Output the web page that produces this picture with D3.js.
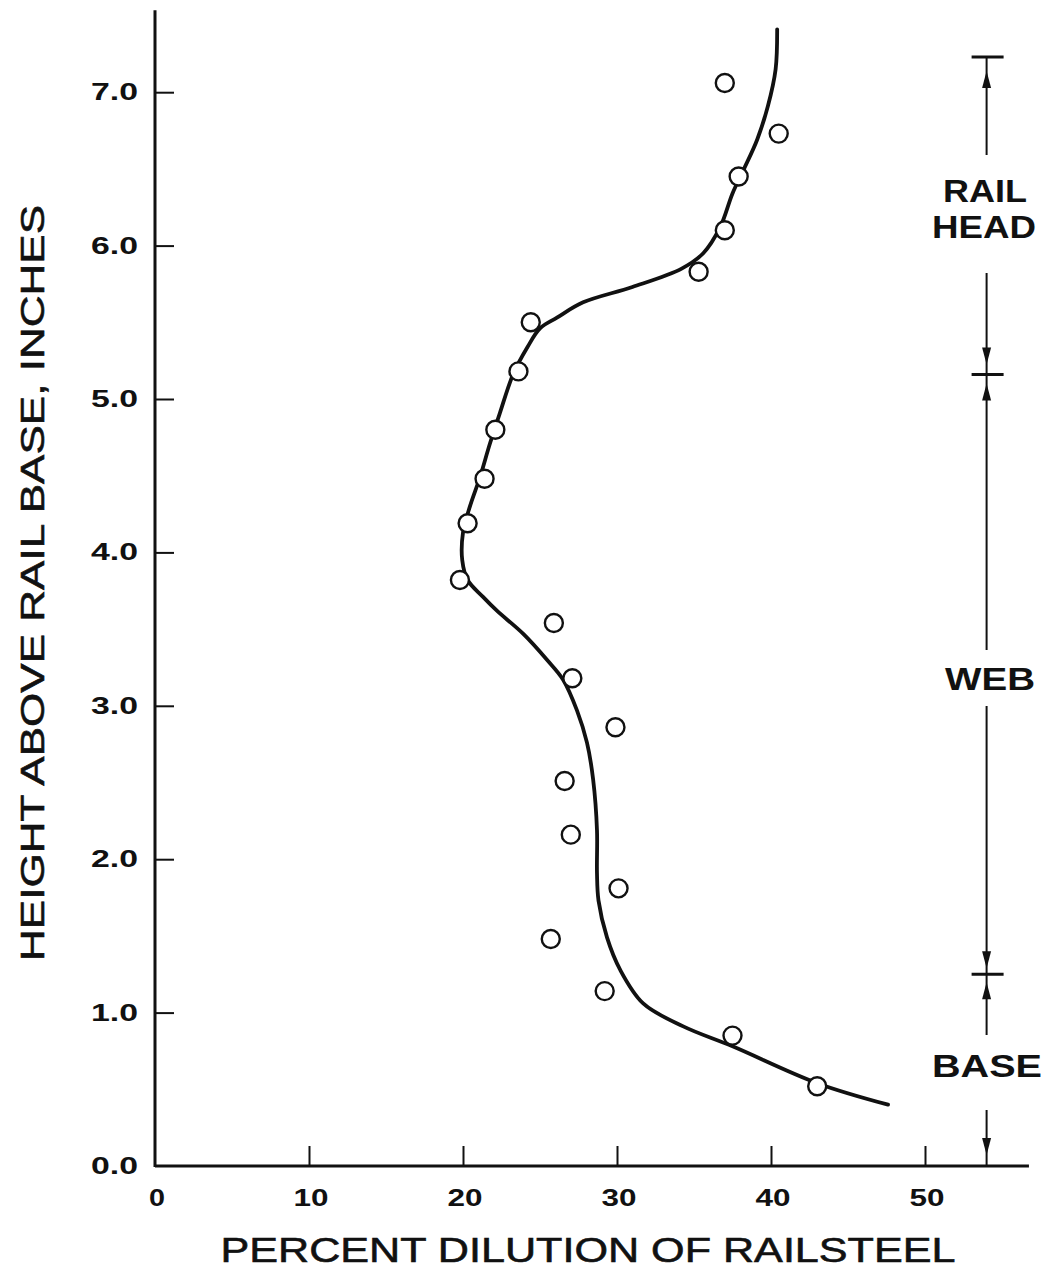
<!DOCTYPE html>
<html>
<head>
<meta charset="utf-8">
<script src="https://cdn.jsdelivr.net/npm/d3@7"></script>
<style>
  html, body { margin: 0; padding: 0; background: #fff; }
  svg { display: block; }
  text { font-family: "Liberation Sans", Arial, Helvetica, sans-serif; fill: #111; }
</style>
</head>
<body>
<svg id="chart" width="1049" height="1273"></svg>
<script>
// ---- data ----
const xTicks = [0, 10, 20, 30, 40, 50];
const yTicks = [0, 1, 2, 3, 4, 5, 6, 7];
const xTickLabels = ["0", "10", "20", "30", "40", "50"];
const yTickLabels = ["0.0", "1.0", "2.0", "3.0", "4.0", "5.0", "6.0", "7.0"];

// measured points: percent dilution, height (in)
const pointDilution = [37.0, 40.5, 37.9, 37.0, 35.3, 24.4, 23.6, 22.1, 21.4, 20.3, 19.8,
                       25.9, 27.1, 29.9, 26.6, 27.0, 30.1, 25.7, 29.2, 37.5, 43.0];
const pointHeight   = [7.06, 6.73, 6.45, 6.10, 5.83, 5.50, 5.18, 4.80, 4.48, 4.19, 3.82,
                       3.54, 3.18, 2.86, 2.51, 2.16, 1.81, 1.48, 1.14, 0.85, 0.52];

// fitted curve
const curveDilution = [40.4, 40.3, 39.8, 39.1, 38.2, 37.5, 36.7, 35.6, 34.2, 31.0, 27.8,
                       26.1, 25.0, 24.2, 23.25, 22.4, 21.75, 21.1, 20.45, 20.0, 19.95,
                       20.3, 21.3, 22.2, 23.9, 25.45, 26.5, 27.4, 28.05, 28.45, 28.7,
                       28.7, 28.8, 29.35, 30.2, 31.7, 34.3, 37.5, 43.0, 47.6];
const curveHeight   = [7.41, 7.15, 6.91, 6.69, 6.49, 6.34, 6.12, 5.95, 5.85, 5.73, 5.63,
                       5.53, 5.46, 5.34, 5.16, 4.91, 4.71, 4.49, 4.30, 4.13, 3.95,
                       3.82, 3.71, 3.62, 3.47, 3.30, 3.17, 2.97, 2.76, 2.52, 2.19,
                       1.91, 1.73, 1.49, 1.28, 1.06, 0.91, 0.78, 0.54, 0.40];

// rail section bracket
const sectionNames  = [["BASE"], ["WEB"], ["RAIL", "HEAD"]];
const sectionBounds = [0, 1.25, 5.16, 7.23];
const bracketX = 54.0;

const xTitle = "PERCENT DILUTION OF RAILSTEEL";
const yTitle = "HEIGHT ABOVE RAIL BASE, INCHES";

// ---- scales ----
const svg = d3.select("#chart");
const x = d3.scaleLinear().domain([0, 50]).range([155, 925]);
const y = d3.scaleLinear().domain([0, 7]).range([1166, 92.2]);

const ink = "#111";

// axes lines
svg.append("line").attr("x1", x(0)).attr("x2", x(56.75)).attr("y1", y(0)).attr("y2", y(0))
  .attr("stroke", ink).attr("stroke-width", 3);
svg.append("line").attr("x1", x(0)).attr("x2", x(0)).attr("y1", y(0) + 1).attr("y2", y(7.535))
  .attr("stroke", ink).attr("stroke-width", 3);

// x axis ticks (inward)
const xAxis = d3.axisTop(x).tickValues(xTicks.slice(1)).tickSize(20).tickFormat("");
const gx = svg.append("g").attr("transform", `translate(0,${y(0)})`).call(xAxis);
gx.select(".domain").remove();
gx.selectAll(".tick line").attr("stroke", ink).attr("stroke-width", 2);

// y axis ticks (inward)
const yAxis = d3.axisRight(y).tickValues(yTicks.slice(1)).tickSize(19).tickFormat("");
const gy = svg.append("g").attr("transform", `translate(${x(0)},0)`).call(yAxis);
gy.select(".domain").remove();
gy.selectAll(".tick line").attr("stroke", ink).attr("stroke-width", 2);

// tick labels
svg.append("g").selectAll("text").data(xTicks).join("text")
  .attr("x", d => x(d) + 2).attr("y", 1206)
  .attr("text-anchor", "middle")
  .attr("font-size", 23).attr("font-weight", "bold")
  .attr("textLength", (d, i) => xTickLabels[i].length > 1 ? 35 : 16)
  .attr("lengthAdjust", "spacingAndGlyphs")
  .text((d, i) => xTickLabels[i]);

svg.append("g").selectAll("text").data(yTicks).join("text")
  .attr("x", 138).attr("y", d => y(d) + 8)
  .attr("text-anchor", "end")
  .attr("font-size", 23).attr("font-weight", "bold")
  .attr("textLength", 47).attr("lengthAdjust", "spacingAndGlyphs")
  .text((d, i) => yTickLabels[i]);

// axis titles
svg.append("text").attr("x", 588).attr("y", 1262)
  .attr("text-anchor", "middle").attr("font-size", 35)
  .attr("stroke", ink).attr("stroke-width", 0.6)
  .attr("textLength", 735).attr("lengthAdjust", "spacingAndGlyphs")
  .text(xTitle);

svg.append("text")
  .attr("transform", `translate(44,583) rotate(-90)`)
  .attr("text-anchor", "middle").attr("font-size", 34)
  .attr("stroke", ink).attr("stroke-width", 0.6)
  .attr("textLength", 756).attr("lengthAdjust", "spacingAndGlyphs")
  .text(yTitle);

// fitted curve
const curveData = curveDilution.map((d, i) => [d, curveHeight[i]]);
const line = d3.line().x(d => x(d[0])).y(d => y(d[1])).curve(d3.curveCatmullRom.alpha(0.5));
svg.append("path").datum(curveData).attr("d", line)
  .attr("fill", "none").attr("stroke", ink).attr("stroke-width", 3.8)
  .attr("stroke-linecap", "round").attr("stroke-linejoin", "round");

// data points
const pts = pointDilution.map((d, i) => [d, pointHeight[i]]);
svg.append("g").selectAll("circle").data(pts).join("circle")
  .attr("cx", d => x(d[0])).attr("cy", d => y(d[1])).attr("r", 9)
  .attr("fill", "#fff").attr("stroke", ink).attr("stroke-width", 2.4);

// ---- rail section bracket ----
const bx = x(bracketX);
const br = svg.append("g");
function vline(y1, y2) {
  br.append("line").attr("x1", bx).attr("x2", bx).attr("y1", y1).attr("y2", y2)
    .attr("stroke", ink).attr("stroke-width", 2);
}
function hbar(yy) {
  br.append("line").attr("x1", bx - 15).attr("x2", bx + 17).attr("y1", yy).attr("y2", yy)
    .attr("stroke", ink).attr("stroke-width", 3);
}
// arrow with tip at tipY, pointing dir (-1 up, +1 down)
function arrow(tipY, dir) {
  const len = 17, hw = 4.5;
  const baseY = tipY - dir * len;
  br.append("path")
    .attr("d", `M${bx},${tipY} L${bx - hw},${baseY} L${bx + hw},${baseY} Z`)
    .attr("fill", ink);
}
hbar(y(sectionBounds[3]));
hbar(y(sectionBounds[2]));
hbar(y(sectionBounds[1]));

// RAIL HEAD section
vline(y(sectionBounds[3]), 155);
arrow(y(sectionBounds[3]) + 14, -1);
vline(273, y(sectionBounds[2]));
arrow(y(sectionBounds[2]) - 10, 1);
// WEB section
vline(y(sectionBounds[2]), 650);
arrow(y(sectionBounds[2]) + 9, -1);
vline(706, y(sectionBounds[1]));
arrow(y(sectionBounds[1]) - 6, 1);
// BASE section
vline(y(sectionBounds[1]), 1035);
arrow(y(sectionBounds[1]) + 8, -1);
vline(1110, y(sectionBounds[0]));
arrow(1155, 1);

// section labels
const labelSpecs = [
  { t: sectionNames[2][0], cx: 985, by: 202, w: 84 },
  { t: sectionNames[2][1], cx: 984, by: 238, w: 104 },
  { t: sectionNames[1][0], cx: 990, by: 690, w: 90 },
  { t: sectionNames[0][0], cx: 987, by: 1077, w: 110 }
];
br.selectAll("text.sec").data(labelSpecs).join("text").attr("class", "sec")
  .attr("x", d => d.cx).attr("y", d => d.by)
  .attr("text-anchor", "middle").attr("font-size", 32).attr("font-weight", "bold")
  .attr("textLength", d => d.w).attr("lengthAdjust", "spacingAndGlyphs")
  .text(d => d.t);
</script>
</body>
</html>
